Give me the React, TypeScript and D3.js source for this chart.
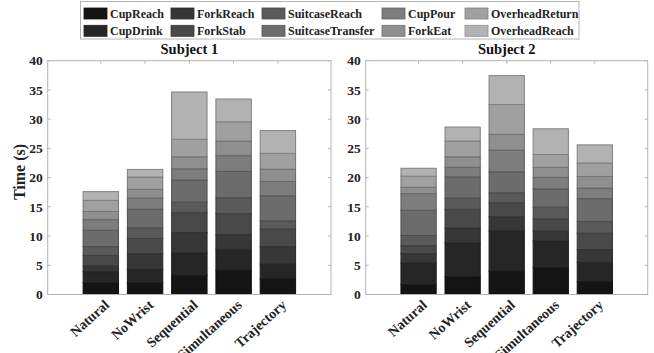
import React from "react";
import * as d3 from "d3";

// conditions on the x axis
const conditions = ["Natural", "NoWrist", "Sequential", "Simultaneous", "Trajectory"];

// task segments, bottom to top of each stack
const tasks = [
  "CupReach", "CupDrink", "ForkReach", "ForkStab", "SuitcaseReach",
  "SuitcaseTransfer", "CupPour", "ForkEat", "OverheadReturn", "OverheadReach",
];

// time (s) per task, one row per condition
const subject1 = [
  [2.0, 1.9, 1.0, 1.8, 1.5, 2.8, 1.8, 1.4, 1.9, 1.5],
  [2.0, 2.3, 2.7, 2.6, 1.8, 3.2, 1.9, 1.5, 2.1, 1.3],
  [3.3, 3.8, 3.5, 3.4, 1.8, 3.8, 1.9, 2.05, 3.0, 8.1],
  [4.15, 3.6, 2.5, 3.6, 2.7, 4.5, 2.7, 2.5, 3.3, 3.9],
  [2.7, 2.5, 3.0, 3.0, 1.4, 4.3, 2.45, 2.1, 2.7, 3.9],
];
const subject2 = [
  [1.7, 3.7, 1.6, 1.35, 1.75, 4.3, 2.85, 1.1, 1.9, 1.35],
  [3.07, 5.75, 2.56, 3.2, 1.9, 3.65, 1.65, 1.77, 2.7, 2.4],
  [4.0, 6.9, 2.4, 2.4, 1.7, 3.6, 3.7, 2.7, 5.1, 4.95],
  [4.6, 4.55, 1.7, 2.1, 2.0, 3.1, 2.0, 1.7, 2.2, 4.4],
  [2.2, 3.3, 2.2, 2.8, 2.0, 3.9, 1.8, 2.0, 2.3, 3.1],
];

const yTicks = [0, 5, 10, 15, 20, 25, 30, 35, 40];

const font = "'Liberation Serif', 'Times New Roman', serif";
const axisColor = "#b4b4b4";

// gray ramp from dark to light
const grays = d3.scaleLinear<string>().domain([0, tasks.length - 1]).range(["#141414", "#b2b2b2"]);
const color = (i: number) => grays(i);

const Panel = ({ title, data, left, right }: { title: string; data: number[][]; left: number; right: number }) => {
  const top = 60.7;
  const bottom = 294.5;
  const x = d3.scaleLinear().domain([-0.2, 6.2]).range([left, right]);
  const y = d3.scaleLinear().domain([0, 40]).range([bottom, top]);
  const rows = data.map((vals, i) => {
    const r: any = { cond: conditions[i], pos: i + 1 };
    tasks.forEach((t, j) => (r[t] = vals[j]));
    return r;
  });
  const series = d3.stack().keys(tasks)(rows);
  const bw = x(0.8) - x(0);

  return (
    <g>
      <text x={(left + right) / 2} y={54} textAnchor="middle" fontFamily={font} fontWeight="bold" fontSize={14.5} fill="#111">
        {title}
      </text>
      {series.map((s, j) => (
        <g key={s.key}>
          {s.map((d, i) => (
            <rect
              key={i}
              x={x(i + 1) - bw / 2}
              y={y(d[1])}
              width={bw}
              height={y(d[0]) - y(d[1])}
              fill={color(j)}
              stroke={d3.color(color(j))!.darker(0.9).formatHex()}
              strokeWidth={1}
            />
          ))}
        </g>
      ))}
      <rect x={left} y={top} width={right - left} height={bottom - top} fill="none" stroke={axisColor} strokeWidth={1} />
      {yTicks.map((t) => (
        <g key={t}>
          <line x1={left} x2={left + 3} y1={y(t)} y2={y(t)} stroke={axisColor} />
          <line x1={right} x2={right - 3} y1={y(t)} y2={y(t)} stroke={axisColor} />
          <text x={left - 5} y={y(t)} dy="0.35em" textAnchor="end" fontFamily={font} fontWeight="bold" fontSize={13.5} fill="#222">
            {t}
          </text>
        </g>
      ))}
      {conditions.map((c, i) => (
        <g key={c}>
          <line x1={x(i + 1)} x2={x(i + 1)} y1={top} y2={top + 3} stroke={axisColor} />
          <text
            transform={`translate(${x(i + 1) + 6},${bottom + 8}) rotate(-42)`}
            textAnchor="end"
            dy="0.35em"
            fontFamily={font}
            fontWeight="bold"
            fontSize={14}
            fill="#222"
          >
            {c}
          </text>
        </g>
      ))}
    </g>
  );
};

const Legend = () => {
  const cols = [84, 171, 262, 382, 465];
  const rowsY = [13.5, 30.8];
  return (
    <g>
      <rect x={80.5} y={1.5} width={498.5} height={37.5} fill="#fff" stroke={axisColor} />
      {tasks.map((t, i) => {
        const cx = cols[Math.floor(i / 2)];
        const cy = rowsY[i % 2];
        return (
          <g key={t}>
            <rect x={cx} y={cy - 5.5} width={23} height={11} fill={color(i)} stroke={d3.color(color(i))!.darker(0.6).formatHex()} strokeWidth={0.8} />
            <text x={cx + 26} y={cy} dy="0.35em" fontFamily={font} fontWeight="bold" fontSize={12} fill="#222">
              {t}
            </text>
          </g>
        );
      })}
    </g>
  );
};

export default function App() {
  return (
    <svg width={654} height={353} style={{ position: "absolute", left: 0, top: 0, background: "#fff" }}>
      <rect width={654} height={353} fill="#fff" />
      <Panel title="Subject 1" data={subject1} left={47.7} right={331} />
      <Panel title="Subject 2" data={subject2} left={365.7} right={647.7} />
      <text
        transform="translate(19,172) rotate(-90)"
        textAnchor="middle"
        dy="0.35em"
        fontFamily={font}
        fontWeight="bold"
        fontSize={16}
        fill="#222"
      >
        Time (s)
      </text>
      <Legend />
    </svg>
  );
}
